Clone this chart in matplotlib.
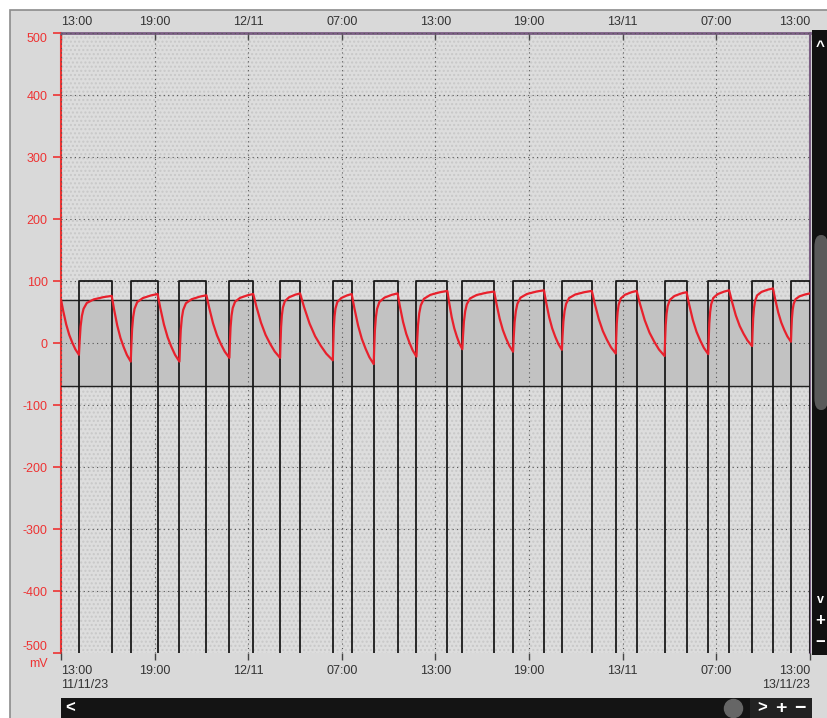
import numpy as np
import matplotlib.pyplot as plt
from matplotlib.patches import Rectangle, FancyBboxPatch

plt.rcParams['font.family'] = ['Liberation Sans', 'DejaVu Sans']
plt.rcParams['axes.unicode_minus'] = False

# time in hours after 11/11/23 13:00
pulse_on = [1.15, 4.47, 7.59, 10.79, 14.04, 17.42, 20.04, 22.78,
            25.72, 28.97, 32.10, 35.55, 38.68, 41.48, 44.29, 46.78]
pulse_off = [3.25, 6.19, 9.32, 12.32, 15.32, 18.63, 21.57, 24.76,
             27.76, 30.95, 34.02, 36.89, 40.09, 42.82, 45.63, 48.0]
# red trace: value at each pulse start (minimum) and end (maximum), mV
trace_min = [-19, -30, -30, -24, -24, -28, -34, -22,
             -10, -14, -11, -17, -21, -18, -5, 2]
trace_max = [76, 79, 77, 79, 80, 79, 80, 84,
             83, 85, 84, 84, 82, 85, 88, 80]
trace_start = 70
# shape of one charge / discharge stroke
rise_t = [0, 0.02, 0.05, 0.09, 0.14, 0.24, 0.45, 0.76, 1.0]
rise_f = [0, 0.22, 0.48, 0.66, 0.78, 0.88, 0.94, 0.98, 1.0]
fall_t = [0, 0.12, 0.29, 0.46, 0.63, 0.80, 1.0]
fall_f = [0, 0.20, 0.45, 0.64, 0.78, 0.90, 1.0]

band_lo, band_hi = -70, 70
pulse_hi, pulse_lo = 100, -520

xticks = [0, 6, 12, 18, 24, 30, 36, 42, 48]
top_labels = ['13:00', '19:00', '12/11', '07:00', '13:00', '19:00', '13/11', '07:00', '13:00']
bottom_labels = ['13:00\n11/11/23', '19:00', '12/11', '07:00', '13:00', '19:00', '13/11', '07:00', '13:00\n13/11/23']

# square wave
sq_x, sq_y = [0], [pulse_lo]
for a, b in zip(pulse_on, pulse_off):
    sq_x += [a, a, b, b]
    sq_y += [pulse_lo, pulse_hi, pulse_hi, pulse_lo]

# red trace built from the read segments
rx, ry = [], []
def add_seg(t0, t1, v0, v1, ts, fs):
    for t, f in zip(ts, fs):
        rx.append(t0 + t * (t1 - t0))
        ry.append(v0 + f * (v1 - v0))

add_seg(0, pulse_on[0], trace_start, trace_min[0], fall_t, fall_f)
for i in range(len(pulse_on)):
    add_seg(pulse_on[i], pulse_off[i], trace_min[i], trace_max[i], rise_t, rise_f)
    if i + 1 < len(pulse_on):
        add_seg(pulse_off[i], pulse_on[i + 1], trace_max[i], trace_min[i + 1], fall_t, fall_f)

W, H = 828, 718
fig = plt.figure(figsize=(W / 100, H / 100), dpi=100, facecolor='white')
bg = fig.add_axes([0, 0, 1, 1], zorder=-5)
bg.set_xlim(0, W); bg.set_ylim(H, 0)
bg.add_patch(Rectangle((10, 10), W, H, facecolor='#d9d9d9', edgecolor='#8c8c8c', lw=1.2))
bg.axis('off')

ax = fig.add_axes([61 / W, 1 - 653 / H, (810 - 61) / W, (653 - 33) / H])
ax.set_facecolor('#dddddd')
ax.patch.set_hatch('....')
ax.patch.set_edgecolor('#c8c8c8')
ax.patch.set_linewidth(0)

ax.axhspan(band_lo, band_hi, color='#c2c2c2', zorder=1)
ax.axhline(band_hi, color='#222222', lw=1, zorder=3)
ax.axhline(band_lo, color='#222222', lw=1, zorder=3)

ax.plot(sq_x, sq_y, color='#1a1a1a', lw=1.3, zorder=4)
ax.plot(rx, ry, color='#e8202c', lw=1.6, zorder=5)

ax.set_xlim(0, 48)
ax.set_ylim(-500, 500)
ax.set_yticks(range(-500, 501, 100))
ax.set_xticks(xticks)
ax.grid(True, color='#555555', lw=0.8, linestyle=(0, (1, 3)), zorder=2)
ax.set_axisbelow(False)

ax.tick_params(axis='y', colors='#ee3333', labelsize=9, length=6, width=1.2)
yl = ax.get_yticklabels()
for lab in yl:
    lab.set_color('#ee3333')
yl[0].set_va('bottom')
yl[-1].set_va('top')
ax.spines['left'].set_color('#ee3333')
ax.spines['left'].set_linewidth(1.5)
ax.spines['bottom'].set_visible(False)
ax.spines['top'].set_color('#7b5e84')
ax.spines['top'].set_linewidth(2)
ax.spines['right'].set_color('#7b5e84')
ax.spines['right'].set_linewidth(1.5)

ax.set_xticklabels(bottom_labels)
ax.tick_params(axis='x', colors='#444444', labelsize=9, length=5, width=1, labelcolor='#333333')
xl = ax.get_xticklabels()
xl[0].set_ha('left')
xl[-1].set_ha('right')
xl[-1].set_multialignment('right')

top = ax.secondary_xaxis('top')
top.set_xticks(xticks)
top.set_xticklabels(top_labels)
top.tick_params(colors='#444444', labelsize=9, length=5, width=1, labelcolor='#333333', direction='in')
tl = top.get_xticklabels()
tl[0].set_ha('left')
tl[-1].set_ha('right')
top.spines['top'].set_visible(False)

fig.text(48 / W, 1 - 664 / H, 'mV', color='#ee3333', fontsize=9, ha='right', va='center')

# right-hand scroll bar
sb = fig.add_axes([812 / W, 1 - 655 / H, 16 / W, (655 - 30) / H])
sb.set_xlim(0, 1); sb.set_ylim(0, 625)
sb.add_patch(Rectangle((0, 0), 1, 625, facecolor='#111111'))
sb.add_patch(FancyBboxPatch((0.15, 245), 0.85, 175, boxstyle='round,pad=0,rounding_size=0.4',
                            facecolor='#5a5a5a', edgecolor='none', mutation_aspect=30))
sb.text(0.5, 608, '^', color='white', ha='center', va='center', fontsize=11, fontweight='bold')
sb.text(0.5, 55, 'v', color='white', ha='center', va='center', fontsize=9, fontweight='bold')
sb.text(0.5, 35, '+', color='white', ha='center', va='center', fontsize=12, fontweight='bold')
sb.text(0.5, 12, '\u2212', color='white', ha='center', va='center', fontsize=12, fontweight='bold')
sb.axis('off')

# bottom scroll bar
bb = fig.add_axes([61 / W, 0, (812 - 61) / W, 20 / H])
bb.set_xlim(61, 812); bb.set_ylim(0, 20)
bb.add_patch(Rectangle((61, 0), 751, 20, facecolor='#141414'))
bb.add_patch(Rectangle((750, 0), 62, 20, facecolor='#222222'))
bb.text(70, 10, '<', color='white', ha='center', va='center', fontsize=12, fontweight='bold')
bb.plot([733], [10], 'o', color='#666666', ms=13)
bb.text(762, 10, '>', color='white', ha='center', va='center', fontsize=12, fontweight='bold')
bb.text(781, 10, '+', color='white', ha='center', va='center', fontsize=14, fontweight='bold')
bb.text(800, 10, '\u2212', color='white', ha='center', va='center', fontsize=14, fontweight='bold')
bb.axis('off')

fig.savefig('out.png', dpi=100, facecolor=fig.get_facecolor())
